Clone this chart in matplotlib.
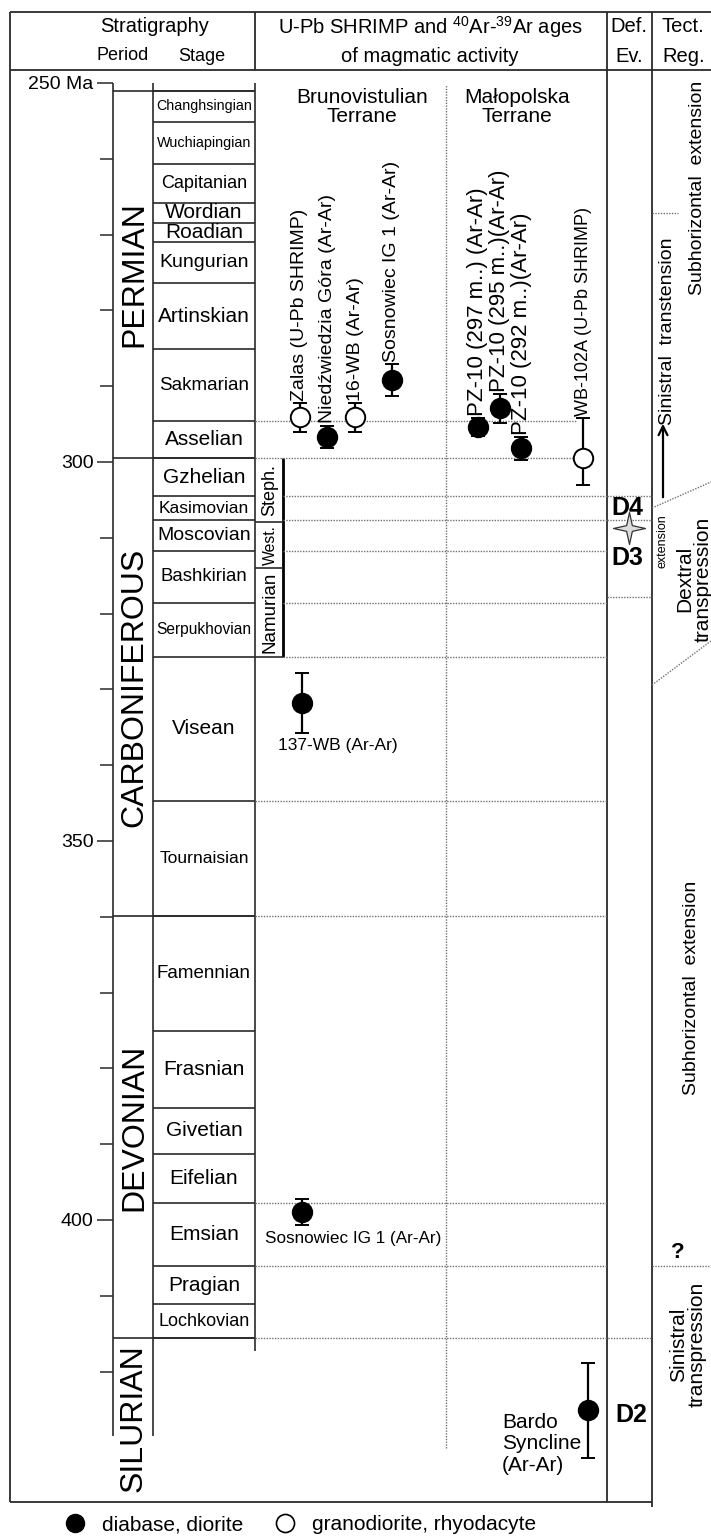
import matplotlib.pyplot as plt
from matplotlib.lines import Line2D
from matplotlib.path import Path

plt.rcParams['font.family'] = ['Liberation Sans', 'DejaVu Sans']
plt.rcParams['mathtext.fontset'] = 'custom'
plt.rcParams['mathtext.rm'] = 'Liberation Sans'

# ---- stratigraphy (ages in Ma) ----
stage_names = ['Changhsingian', 'Wuchiapingian', 'Capitanian', 'Wordian', 'Roadian',
               'Kungurian', 'Artinskian', 'Sakmarian', 'Asselian', 'Gzhelian',
               'Kasimovian', 'Moscovian', 'Bashkirian', 'Serpukhovian', 'Visean',
               'Tournaisian', 'Famennian', 'Frasnian', 'Givetian', 'Eifelian',
               'Emsian', 'Pragian', 'Lochkovian']
stage_bounds = [251.0, 255.1, 260.7, 265.8, 268.5, 271.0, 276.4, 285.1, 294.6, 299.5,
                304.5, 307.7, 311.7, 318.6, 325.7, 344.7, 359.9, 375.1, 385.2, 391.3,
                397.8, 406.1, 411.1, 415.6]
period_names = ['PERMIAN', 'CARBONIFEROUS', 'DEVONIAN', 'SILURIAN']
period_bounds = [251.0, 299.5, 359.9, 415.6, 428.5]
regional_names = ['Steph.', 'West.', 'Namurian']
regional_bounds = [299.5, 307.9, 314.0, 325.7]

# boundaries traced across the age columns (dotted)
guide_ages = [294.6, 299.5, 304.5, 307.7, 311.7, 318.6, 325.7, 344.7, 359.9, 397.8, 406.1, 415.6]
def_guide_ages = [304.5, 307.7, 317.8]

# ---- magmatic ages ----
bv_labels = ['Zalas (U-Pb SHRIMP)', 'Niedźwiedzia Góra (Ar-Ar)', '16-WB (Ar-Ar)',
             'Sosnowiec IG 1 (Ar-Ar)']
bv_age = [294.1, 296.7, 294.1, 289.2]
bv_err_young = [1.9, 1.5, 1.9, 2.1]
bv_err_old = [1.9, 1.5, 1.9, 2.1]
bv_mafic = [False, True, False, True]

mp_labels = ['PZ-10 (297 m..) (Ar-Ar)', 'PZ-10 (295 m..)(Ar-Ar)', 'PZ-10 (292 m..)(Ar-Ar)',
             'WB-102A (U-Pb SHRIMP)']
mp_age = [295.4, 292.9, 298.2, 299.5]
mp_err_young = [1.2, 1.9, 1.5, 5.3]
mp_err_old = [1.2, 1.9, 1.5, 3.5]
mp_mafic = [True, True, True, False]

other_labels = ['137-WB (Ar-Ar)', 'Sosnowiec IG 1 (Ar-Ar)', 'Bardo\nSyncline\n(Ar-Ar)']
other_age = [331.8, 398.9, 425.1]
other_err = [3.9, 1.7, 6.3]

# ---- layout ----
PX_PER_MA = 7.58


def ma(y):
    # pixel row -> age on the chart scale
    return 250 + (y - 83) / PX_PER_MA


LC = '#2a2a2a'
DOT = '#707070'
DOTS = (0, (1, 1))

fig = plt.figure(figsize=(7.11, 15.37), dpi=100)
ax = fig.add_axes([0, 0, 1, 1])
ax.set_xlim(0, 711)
ax.set_ylim(ma(1537), ma(0))
ax.axis('off')

# frame and header
ax.hlines([ma(12), ma(70)], 10, 711, color=LC, lw=1.3)
ax.vlines(10, ma(1502), ma(12), color=LC, lw=1.3)
ax.vlines([255, 607, 652], ma(70), ma(12), color=LC, lw=1.3)
ax.vlines(607, ma(1502), ma(70), color=LC, lw=1.3)
ax.vlines(652, ma(1507), ma(70), color=LC, lw=1.3)
ax.hlines(ma(1502), 10, 652, color=LC, lw=1.3)

hs = 14.5
ax.text(155, ma(27), 'Stratigraphy', ha='center', va='center', fontsize=hs)
ax.text(123, ma(56), 'Period', ha='center', va='center', fontsize=13)
ax.text(202, ma(57), 'Stage', ha='center', va='center', fontsize=13)
ax.text(430, ma(27), 'U-Pb SHRIMP and $^{40}$Ar-$^{39}$Ar ages', ha='center', va='center', fontsize=hs)
ax.text(430, ma(57), 'of magmatic activity', ha='center', va='center', fontsize=hs)
ax.text(629, ma(27), 'Def.', ha='center', va='center', fontsize=hs)
ax.text(629, ma(57), 'Ev.', ha='center', va='center', fontsize=hs)
ax.text(683, ma(27), 'Tect.', ha='center', va='center', fontsize=hs)
ax.text(684, ma(57), 'Reg.', ha='center', va='center', fontsize=hs)

# period / stage columns
ax.vlines([113, 153], period_bounds[-1], 250.0, color=LC, lw=1.2)
ax.vlines(255, ma(1351), 250.0, color=LC, lw=1.2)
ax.hlines(stage_bounds, 153, 255, color=LC, lw=1.2)
ax.hlines(period_bounds[:-1], 113, 255, color=LC, lw=1.2)

stage_fs = [10.3, 10.4, 13, 15, 15, 14, 15, 13.6, 15, 15, 12.5, 14, 13.4, 11.2, 15,
            12.6, 13.5, 15, 15, 15, 15, 15, 13]
for name, top, base, fs in zip(stage_names, stage_bounds[:-1], stage_bounds[1:], stage_fs):
    ax.text(204, (top + base) / 2, name, ha='center', va='center', fontsize=fs)

period_mid = [(a + b) / 2 for a, b in zip(period_bounds[:-1], period_bounds[1:])]
period_mid[-1] = ma(1418)
for name, mid in zip(period_names, period_mid):
    ax.text(134, mid, name, rotation=90, ha='center', va='center', fontsize=23)

# regional Carboniferous subdivision
ax.vlines(283, regional_bounds[0], regional_bounds[-1], color='k', lw=2)
ax.hlines(regional_bounds[1:], 255, 283, color=LC, lw=1.2)
for name, top, base, fs in zip(regional_names, regional_bounds[:-1], regional_bounds[1:],
                               [13, 11.3, 13.5]):
    ax.text(270, (top + base) / 2, name, rotation=90, ha='center', va='center', fontsize=fs)

# dotted guide lines
for a in guide_ages:
    x0 = 283 if regional_bounds[0] < a <= regional_bounds[-1] else 255
    x1 = 577 if a < 300 else (652 if a > 410 else 607)
    ax.hlines(a, x0, x1, color=DOT, lw=1.0, linestyles=DOTS)
ax.hlines(def_guide_ages, 607, 652, color=DOT, lw=1.0, linestyles=DOTS)
ax.hlines([406.1, ma(213)], 652, [711, 678], color=DOT, lw=1.0, linestyles=DOTS)
ax.vlines(446, ma(1448), ma(85), color=DOT, lw=1.0, linestyles=DOTS)

# terrane headings
ax.text(362, ma(107), 'Brunovistulian\nTerrane', ha='center', va='center', fontsize=15,
        linespacing=1.05)
ax.text(517, ma(107), 'Małopolska\nTerrane', ha='center', va='center', fontsize=15,
        linespacing=1.05)


def draw_age(x, age, lo, hi, mafic):
    ax.errorbar([x], [age], yerr=[[lo], [hi]], fmt='o', ms=14,
                mfc='k' if mafic else 'white', mec='k', mew=1.4,
                ecolor='k', elinewidth=1.6, capsize=5, capthick=1.6, zorder=5)


bv_x = [300, 327, 355, 392]
for x, lab, age, lo, hi, m in zip(bv_x, bv_labels, bv_age, bv_err_young, bv_err_old, bv_mafic):
    draw_age(x, age, lo, hi, m)
    ax.text(x, age - lo - 0.3, lab, rotation=90, ha='center', va='bottom', fontsize=14)

mp_x = [478, 500, 521, 583]
mp_fs = [16, 16, 16, 13]
for x, lab, age, lo, hi, m, fs in zip(mp_x, mp_labels, mp_age, mp_err_young, mp_err_old,
                                      mp_mafic, mp_fs):
    draw_age(x, age, lo, hi, m)
    ax.text(x, age - lo - 0.3, lab, rotation=90, ha='center', va='bottom', fontsize=fs)

other_x = [302, 302, 588]
for x, age, err in zip(other_x, other_age, other_err):
    draw_age(x, age, err, err, True)
ax.text(338, ma(746), other_labels[0], ha='center', va='center', fontsize=12.5)
ax.text(353, ma(1239), other_labels[1], ha='center', va='center', fontsize=12.3)
ax.text(502, ma(1444), other_labels[2], ha='left', va='center', fontsize=15, linespacing=1.15)

# deformation events
ax.text(627, ma(508), 'D4', ha='center', va='center', fontsize=18, fontweight='bold')
ax.text(627, ma(558), 'D3', ha='center', va='center', fontsize=18, fontweight='bold')
ax.text(631, ma(1415), 'D2', ha='center', va='center', fontsize=18, fontweight='bold')
star = Path([(0, 1), (0.18, 0.18), (1, 0), (0.18, -0.18), (0, -1), (-0.18, -0.18),
             (-1, 0), (-0.18, 0.18), (0, 1)],
            [Path.MOVETO] + [Path.LINETO] * 7 + [Path.CLOSEPOLY])
ax.plot([629], [ma(528)], marker=star, ms=23, mfc='#dcdcdc', mec='#333333', mew=0.9,
        ls='none', zorder=6)

# tectonic regime
ax.text(698, ma(188), 'Subhorizontal  extension', rotation=90, ha='center', va='center',
        fontsize=14)
ax.text(667, ma(331), 'Sinistral  transtension', rotation=90, ha='center', va='center',
        fontsize=14)
ax.annotate('', xy=(663, ma(421)), xytext=(663, ma(500)),
            arrowprops=dict(arrowstyle='->', lw=1.6, color='k', mutation_scale=16))
ax.plot([652, 711], [ma(508), ma(482)], color=DOT, lw=1.0, ls=DOTS)
ax.plot([652, 711], [ma(685), ma(641)], color=DOT, lw=1.0, ls=DOTS)
ax.text(663, ma(541), 'extension', rotation=90, ha='center', va='center', fontsize=9)
ax.text(694, ma(642), 'Dextral\ntranspression', rotation=90, ha='center', va='bottom',
        fontsize=15, linespacing=1.0)
ax.text(691, ma(988), 'Subhorizontal  extension', rotation=90, ha='center', va='center',
        fontsize=14)
ax.text(678, ma(1252), '?', ha='center', va='center', fontsize=16, fontweight='bold')
ax.text(688, ma(1407), 'Sinistral\ntranspression', rotation=90, ha='center', va='bottom',
        fontsize=15, linespacing=1.0)

# age axis ticks
tax = fig.add_axes([113 / 711, 0, 1e-4, 1])
tax.set_ylim(ma(1537), ma(0))
for s in tax.spines.values():
    s.set_visible(False)
tax.patch.set_visible(False)
tax.set_xticks([])
tax.set_yticks([250, 300, 350, 400], labels=['250 Ma', '300', '350', '400'], fontsize=14)
tax.set_yticks([260, 270, 280, 290, 310, 320, 330, 340, 360, 370, 380, 390, 410, 420],
               minor=True)
tax.tick_params(axis='y', which='major', length=11.5, width=1.1, color=LC, pad=2.5)
tax.tick_params(axis='y', which='minor', length=9.4, width=1.1, color=LC)

# legend
handles = [Line2D([], [], ls='none', marker='o', ms=13, mfc='k', mec='k'),
           Line2D([], [], ls='none', marker='o', ms=13, mfc='white', mec='k', mew=1.2)]
fig.legend(handles, ['diabase, diorite', 'granodiorite, rhyodacyte'], ncol=2,
           loc='center left', bbox_to_anchor=(65 / 711, 1 - 1525 / 1537), frameon=False,
           fontsize=15, handlelength=1.0, handletextpad=0.78, columnspacing=1.5,
           borderpad=0, borderaxespad=0)

fig.savefig('out.png', dpi=100)
